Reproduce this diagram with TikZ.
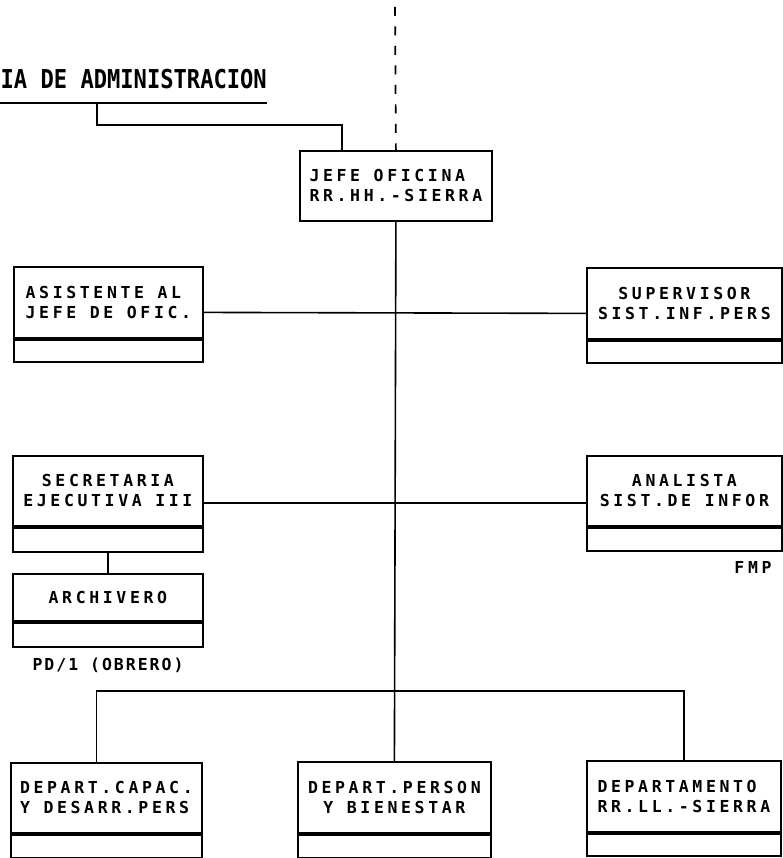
\documentclass[tikz,border=0pt]{standalone}
\usepackage{fontspec}
\usepackage{graphicx}
\newfontfamily\dotfont[LetterSpace=22]{DejaVu Sans Mono Bold}
\newfontfamily\notefont[LetterSpace=12]{DejaVu Sans Mono Bold}
\newfontfamily\headfont{DejaVu Sans Mono Bold}
\newcommand\boxtext{\dotfont\fontsize{16.5pt}{20pt}\selectfont}
\newcommand\notetext{\notefont\fontsize{16.5pt}{20pt}\selectfont}
\tikzset{
  post/.style={draw, line width=1.8pt, anchor=north west, inner xsep=4pt,
    inner ysep=2pt, font=\boxtext, align=center},
  tray/.style={draw, line width=1.8pt, anchor=north west},
  link/.style={line width=1.6pt},
  linkdash/.style={line width=1.7pt, dash pattern=on 9pt off 10.5pt, dash phase=12.5pt},
}
\begin{document}
\begin{tikzpicture}[x=1pt, y=-1pt]
\fill[white] (0,0) rectangle (782,858);
\useasboundingbox (0,0) rectangle (782,858);

% heading and its rule
\node[anchor=base east, inner sep=0pt,
  font=\headfont\fontsize{26pt}{26pt}\selectfont] (headline) at (267,89)
  {\scalebox{0.85}[1]{IA DE ADMINISTRACION}};
\draw[link, line width=1.9pt] (0,103) -- (267,103);
\coordinate (rule-tap) at (97,103);
\coordinate (upper) at (395,0);

% head of office
\node[post, minimum width=192pt, minimum height=70pt, align=left] (jefe) at (299,150)
  {JEFE OFICINA\\RR.HH.-SIERRA};

% staff boxes
\node[post, minimum width=189pt, minimum height=71pt, align=left] (asist) at (13,266)
  {ASISTENTE AL\\JEFE DE OFIC.};
\node[tray, minimum width=189pt, minimum height=22pt] (asist-t) at (asist.south west) {};

\node[post, minimum width=195pt, minimum height=71pt] (superv) at (586,267)
  {SUPERVISOR\\SIST.INF.PERS};
\node[tray, minimum width=195pt, minimum height=22pt] (superv-t) at (superv.south west) {};

\node[post, minimum width=190pt, minimum height=70pt] (secr) at (12,455)
  {SECRETARIA\\EJECUTIVA III};
\node[tray, minimum width=190pt, minimum height=24pt] (secr-t) at (secr.south west) {};

\node[post, minimum width=195pt, minimum height=70pt] (analista) at (586,455)
  {ANALISTA\\SIST.DE INFOR};
\node[tray, minimum width=195pt, minimum height=23pt] (analista-t) at (analista.south west) {};

\node[post, minimum width=190pt, minimum height=47pt] (arch) at (12,573)
  {ARCHIVERO};
\node[tray, minimum width=190pt, minimum height=24pt] (arch-t) at (arch.south west) {};

\node[font=\notetext, inner sep=0pt] (arch-note) at (108,665) {PD/1 (OBRERO)};
\node[font=\boxtext, inner sep=0pt] (analista-note) at (753,567) {FMP};

% departments
\node[post, minimum width=191pt, minimum height=70pt, align=left] (capac) at (10,762)
  {DEPART.CAPAC.\\Y DESARR.PERS};
\node[tray, minimum width=191pt, minimum height=23pt] (capac-t) at (capac.south west) {};

\node[post, minimum width=193pt, minimum height=71pt] (bienestar) at (297,761)
  {DEPART.PERSON\\Y BIENESTAR};
\node[tray, minimum width=193pt, minimum height=23pt] (bienestar-t) at (bienestar.south west) {};

\node[post, minimum width=194pt, minimum height=71pt, align=left] (rrll) at (586,760)
  {DEPARTAMENTO\\RR.LL.-SIERRA};
\node[tray, minimum width=194pt, minimum height=22pt] (rrll-t) at (rrll.south west) {};

% connectors
\coordinate (jefe-tap) at ([xshift=-54pt]jefe.north);
\draw[link] (rule-tap) -- ++(0,22) -| (jefe-tap);
\draw[linkdash] (upper) -- (jefe.north);
\draw[link] (jefe.south) -- (bienestar.north);
\draw[link] ([yshift=-10pt]asist.east) -- ([yshift=-10pt]superv.west);
\draw[link] ([yshift=-12pt]secr.east) -- ([yshift=-12pt]analista.west);
\draw[link] (secr-t.south) -- (arch.north);
\coordinate (bus) at (395,691);
\draw[link] ([xshift=-10pt]capac.north) |- (bus) -| (rrll.north);
\end{tikzpicture}
\end{document}
